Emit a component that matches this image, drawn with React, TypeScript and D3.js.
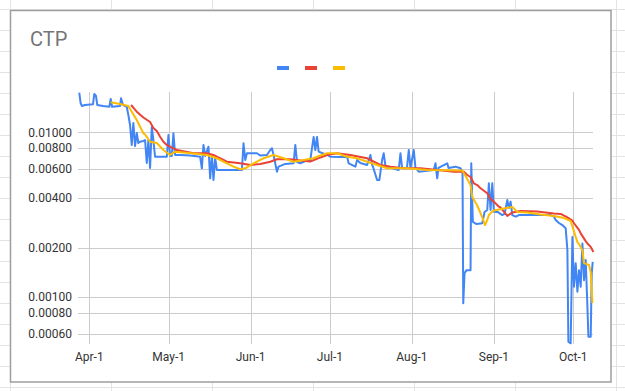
import React from "react";
import * as d3 from "d3";

// Days are offsets from 2021-04-01 (UTC); values are CTP prices.
const blueSeries: [number, number][] = [
  [-3.79, 0.01738], [-3.26, 0.01499], [-2.76, 0.01443], [-1.63, 0.01464], [1.4, 0.01478],
  [1.89, 0.01707], [2.54, 0.0166], [3.03, 0.01464], [5.19, 0.01443], [7.57, 0.01429],
  [8.1, 0.01592], [8.6, 0.01429], [11.62, 0.01443], [12.0, 0.01607], [12.76, 0.01464],
  [14.16, 0.01429], [14.77, 0.01273], [15.41, 0.01107], [16.05, 0.00838], [16.66, 0.01139],
  [17.3, 0.00826], [17.95, 0.0099], [18.55, 0.00861], [19.2, 0.00877], [20.45, 0.00886],
  [21.09, 0.00898], [21.73, 0.00652], [22.34, 0.00898], [22.98, 0.00608], [23.63, 0.01077],
  [24.23, 0.00898], [24.87, 0.00711], [26.77, 0.00711], [29.31, 0.00711], [29.91, 0.00963],
  [30.56, 0.00719], [31.2, 0.00719], [31.81, 0.00986], [32.45, 0.00729], [34.34, 0.00729],
  [38.13, 0.00723], [41.92, 0.00711], [42.56, 0.00605], [43.17, 0.00838], [43.81, 0.00719],
  [45.06, 0.00818], [45.7, 0.00526], [46.35, 0.00729], [46.95, 0.00514], [47.6, 0.00699],
  [48.24, 0.00591], [49.49, 0.00591], [54.52, 0.00591], [57.71, 0.00591], [58.31, 0.00858],
  [58.96, 0.0068], [59.6, 0.00746], [63.38, 0.00746], [64.63, 0.00723], [67.17, 0.00729],
  [68.42, 0.00781], [69.06, 0.008], [69.75, 0.00719], [70.96, 0.00577], [71.56, 0.00619],
  [74.1, 0.00643], [77.24, 0.00649], [77.89, 0.00838], [78.53, 0.00661], [79.78, 0.00649],
  [81.67, 0.0067], [83.57, 0.0068], [84.82, 0.00937], [85.46, 0.00781], [86.1, 0.00937],
  [86.71, 0.00763], [89.89, 0.00729], [91.14, 0.00711], [94.93, 0.00708], [97.46, 0.00711],
  [98.07, 0.00649], [100.61, 0.00619], [101.25, 0.0068], [102.5, 0.00652], [105.04, 0.00634],
  [106.29, 0.00729], [106.93, 0.00634], [107.42, 0.00608], [108.82, 0.00514], [109.69, 0.00514],
  [110.72, 0.0068], [111.32, 0.00746], [111.97, 0.00625], [112.61, 0.00619], [117.0, 0.00591],
  [117.65, 0.00746], [118.29, 0.00605], [120.11, 0.00608], [120.79, 0.00781], [121.43, 0.00608],
  [122.68, 0.00781], [123.32, 0.00608], [124.57, 0.00577], [130.25, 0.00591], [130.9, 0.00649],
  [131.54, 0.00526], [132.03, 0.00608], [135.33, 0.00649], [135.82, 0.00608], [138.47, 0.00619],
  [140.36, 0.00605], [141.12, 0.00577], [141.39, 0.00092], [141.88, 0.0014], [142.64, 0.00146],
  [144.15, 0.00146], [144.42, 0.00649], [145.02, 0.00286], [146.42, 0.00278], [148.58, 0.00281],
  [149.45, 0.00329], [150.47, 0.00338], [151.08, 0.00491], [151.72, 0.00338], [152.37, 0.00491],
  [152.97, 0.0033], [154.37, 0.00329], [156.15, 0.00315], [157.02, 0.0032], [158.05, 0.00389],
  [158.65, 0.00348], [159.3, 0.0038], [159.94, 0.00315], [161.19, 0.00308], [162.44, 0.00315],
  [168.12, 0.00315], [174.44, 0.00315], [175.69, 0.00308], [176.34, 0.00294], [177.58, 0.00282],
  [178.87, 0.00274], [180.12, 0.00262], [180.77, 0.00193], [181.14, 0.000538], [182.01, 0.000526],
  [182.66, 0.00232], [183.26, 0.00116], [183.91, 0.00161], [184.55, 0.00108], [185.16, 0.00146],
  [185.8, 0.00116], [186.44, 0.00212], [187.05, 0.00127], [187.69, 0.00168], [188.34, 0.000877],
  [188.72, 0.000577], [189.59, 0.000577], [189.97, 0.0014], [190.35, 0.00164],
];

const redSeries: [number, number][] = [
  [15.79, 0.01464], [17.95, 0.01333], [20.45, 0.01229], [22.98, 0.01154], [24.23, 0.01062],
  [25.52, 0.01018], [26.77, 0.0094], [28.02, 0.00877], [29.31, 0.00838], [30.56, 0.00818],
  [31.81, 0.008], [33.09, 0.00781], [35.59, 0.00768], [39.38, 0.00746], [44.45, 0.00746],
  [46.95, 0.00729], [48.24, 0.00711], [50.74, 0.0068], [52.03, 0.00663], [57.06, 0.00649],
  [60.85, 0.00634], [64.63, 0.00643], [68.42, 0.00663], [70.96, 0.00686], [75.99, 0.00686],
  [79.78, 0.00675], [83.57, 0.00665], [87.35, 0.00704], [89.89, 0.00729], [93.68, 0.00746],
  [98.71, 0.00729], [105.04, 0.00696], [110.07, 0.00634], [113.86, 0.00619], [118.89, 0.00605],
  [125.22, 0.00605], [131.54, 0.00591], [137.83, 0.00577], [141.61, 0.00577], [142.9, 0.00551],
  [144.15, 0.00536], [145.4, 0.00491], [146.69, 0.00479], [147.94, 0.00458], [150.47, 0.00427],
  [151.72, 0.00394], [152.97, 0.0038], [154.87, 0.00354], [155.51, 0.0035], [158.05, 0.00311],
  [159.94, 0.00327], [163.08, 0.00333], [169.41, 0.00331], [175.69, 0.00322], [178.23, 0.0032],
  [180.77, 0.00305], [182.66, 0.00292], [183.26, 0.00281], [185.16, 0.00256], [185.8, 0.00244],
  [187.69, 0.00219], [188.34, 0.00212], [189.59, 0.00202], [190.61, 0.00188],
];

const yellowSeries: [number, number][] = [
  [8.1, 0.0152], [11.62, 0.01484], [14.77, 0.01443], [16.05, 0.01333], [17.95, 0.01187],
  [18.55, 0.01134], [20.45, 0.00986], [21.09, 0.0097], [22.98, 0.00877], [25.52, 0.00861],
  [28.02, 0.00781], [30.56, 0.00729], [32.45, 0.00763], [35.59, 0.00754], [39.38, 0.00744],
  [44.45, 0.00729], [48.24, 0.00696], [52.03, 0.00649], [54.52, 0.00619], [57.06, 0.00597],
  [58.96, 0.00605], [62.1, 0.00649], [65.88, 0.00696], [69.67, 0.00729], [73.46, 0.00696],
  [77.24, 0.00663], [81.03, 0.0068], [84.82, 0.00696], [86.1, 0.00711], [89.89, 0.00746],
  [93.68, 0.00746], [97.46, 0.00711], [101.25, 0.00696], [105.04, 0.00663], [108.82, 0.00634],
  [112.61, 0.00605], [120.18, 0.00605], [127.75, 0.00591], [141.01, 0.00587], [142.26, 0.00543],
  [144.15, 0.00479], [144.8, 0.00405], [146.69, 0.0036], [148.58, 0.00305], [149.64, 0.00274],
  [150.47, 0.00294], [151.08, 0.00315], [151.72, 0.00324], [152.97, 0.00336], [156.76, 0.00345],
  [159.94, 0.00353], [161.83, 0.00329], [165.62, 0.00327], [170.66, 0.00318], [175.69, 0.00311],
  [179.48, 0.00302], [182.01, 0.0029], [183.26, 0.00251], [184.55, 0.00216], [185.16, 0.0021],
  [186.44, 0.00193], [187.05, 0.00161], [188.94, 0.00157], [189.59, 0.00142], [190.23, 0.000924],
];

const yTicks = [0.0006, 0.0008, 0.001, 0.002, 0.004, 0.006, 0.008, 0.01];
const monthTicks = [3, 4, 5, 6, 7, 8, 9]; // Apr..Oct (0-based months), day 1
const monthNames = ["Jan", "Feb", "Mar", "Apr", "May", "Jun", "Jul", "Aug", "Sep", "Oct", "Nov", "Dec"];
const seriesColors = ["#4285F4", "#EA4335", "#FBBC04"];
const title = "CTP";

const BASE = Date.UTC(2021, 3, 1);
const DAY = 86400000;
const toDate = (d: number) => new Date(BASE + d * DAY);

export default function App() {
  const W = 625;
  const H = 391;
  const left = 78, right = 593, top = 92, bottom = 344;

  const x = d3.scaleUtc().domain([toDate(-4.27), toDate(190.45)]).range([left, right]);
  const y = d3.scaleLog().domain([0.000521, 0.01755]).range([bottom, top]);

  const line = d3
    .line<[number, number]>()
    .x((p) => x(toDate(p[0])))
    .y((p) => y(p[1]));

  const fmt = d3.format(".5f");
  const font = "Roboto, Arial, sans-serif";

  // spreadsheet background grid
  const colLines = d3.range(10, 630, 101);
  const rowLines = d3.range(9, 395, 21);

  const monthDates = monthTicks.map((m) => new Date(Date.UTC(2021, m, 1)));

  return (
    <svg width={W} height={H} style={{ position: "absolute", left: 0, top: 0, background: "#fff" }}>
      <rect x={0} y={0} width={W} height={H} fill="#fff" />
      {colLines.map((c) => (
        <line key={"c" + c} x1={c + 0.5} x2={c + 0.5} y1={0} y2={H} stroke="#e2e3e3" strokeWidth={1} />
      ))}
      {rowLines.map((r) => (
        <line key={"r" + r} x1={0} x2={W} y1={r + 0.5} y2={r + 0.5} stroke="#e2e3e3" strokeWidth={1} />
      ))}
      <rect x={10.5} y={10.5} width={600.5} height={371.5} fill="#fff" stroke="#9e9e9e" strokeWidth={1.5} />

      <text x={30} y={45.7} fontFamily={font} fontSize={20} fill="#757575">
        {title}
      </text>

      {seriesColors.map((c, i) => (
        <rect key={c} x={277 + i * 28} y={66} width={12} height={4} fill={c} />
      ))}

      {yTicks.map((t) => (
        <g key={t}>
          <line x1={left} x2={right} y1={Math.round(y(t)) + 0.5} y2={Math.round(y(t)) + 0.5} stroke="#cccccc" />
          <text x={72} y={y(t)} dy="0.35em" textAnchor="end" fontFamily={font} fontSize={12} fill="#333">
            {fmt(t)}
          </text>
        </g>
      ))}

      {monthDates.map((d) => (
        <g key={d.getTime()}>
          <line x1={Math.round(x(d)) + 0.5} x2={Math.round(x(d)) + 0.5} y1={top} y2={bottom} stroke="#cccccc" />
          <text x={x(d)} y={361} textAnchor="middle" fontFamily={font} fontSize={12} fill="#333">
            {monthNames[d.getUTCMonth()] + "-" + d.getUTCDate()}
          </text>
        </g>
      ))}

      <path d={line(blueSeries) || ""} fill="none" stroke={seriesColors[0]} strokeWidth={2} strokeLinejoin="round" />
      <path d={line(redSeries) || ""} fill="none" stroke={seriesColors[1]} strokeWidth={2} strokeLinejoin="round" />
      <path d={line(yellowSeries) || ""} fill="none" stroke={seriesColors[2]} strokeWidth={2} strokeLinejoin="round" />
    </svg>
  );
}
